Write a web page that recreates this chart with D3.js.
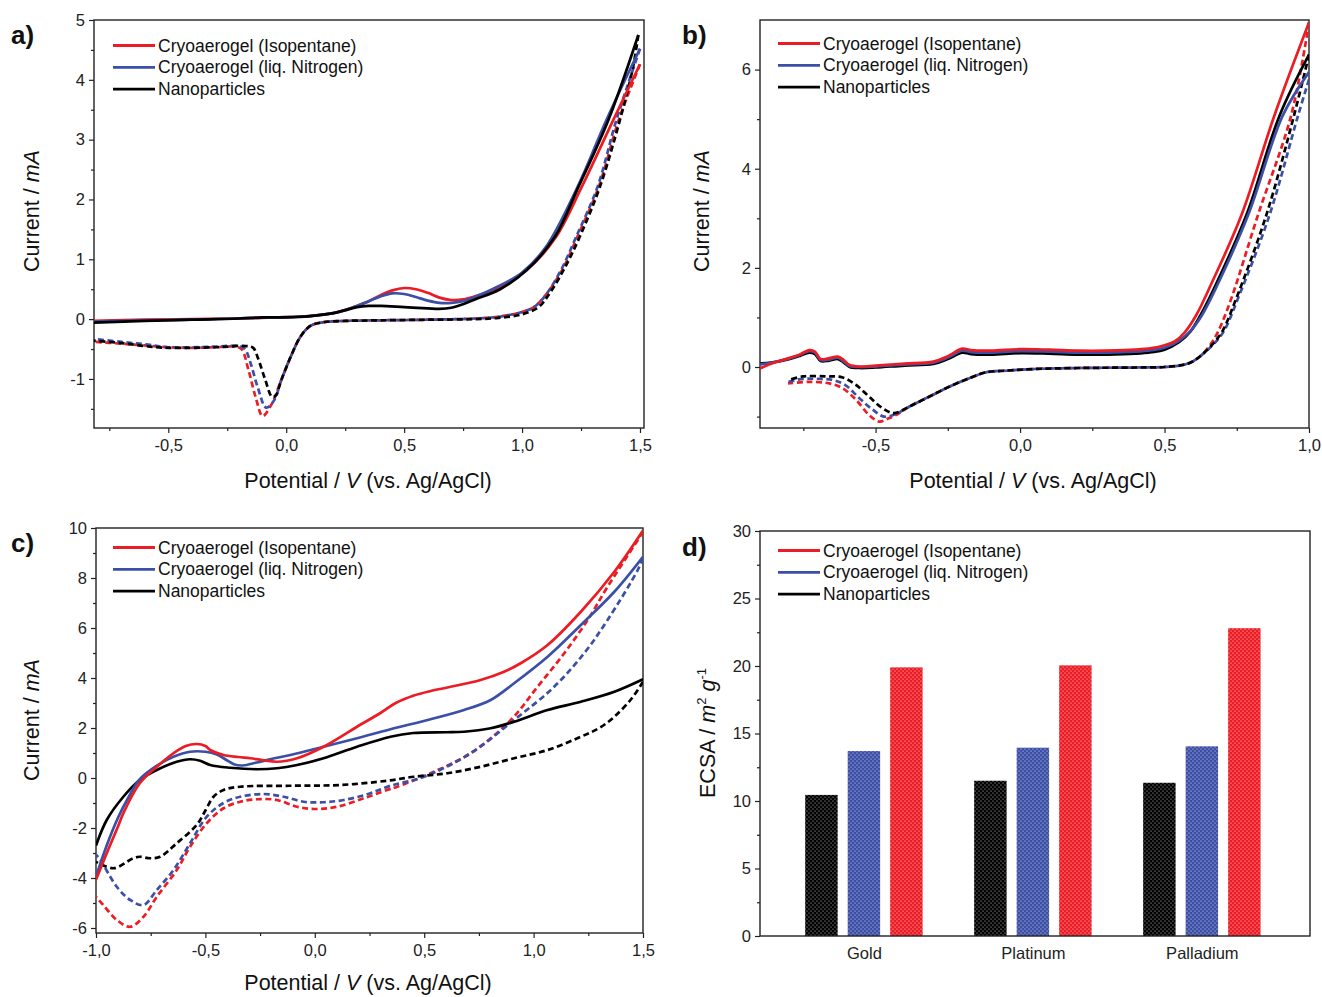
<!DOCTYPE html>
<html><head><meta charset="utf-8">
<script src="https://cdn.jsdelivr.net/npm/d3@7"></script>
<style>
html,body{margin:0;padding:0;background:#fff;}
svg{display:block;font-family:"Liberation Sans",Arial,sans-serif;}
</style></head>
<body><svg id="fig" width="1322" height="997"></svg>
<script>
// ---------------- DATA ----------------
const seriesNames = ["Cryoaerogel (Isopentane)", "Cryoaerogel (liq. Nitrogen)", "Nanoparticles"];
const seriesColors = ["#ec1c24", "#3c4fa6", "#000000"];

// Panel a) forward (solid) and reverse (dashed) scans: [potential V, current mA]
const aRedFwd = [[-0.815,-0.03],[-0.6,-0.01],[-0.4,0.0],[-0.2,0.01],[-0.05,0.03],[0.05,0.04],[0.1,0.05],[0.2,0.1],[0.25,0.15],[0.3,0.22],[0.35,0.3],[0.4,0.4],[0.45,0.48],[0.5,0.52],[0.55,0.5],[0.6,0.44],[0.65,0.36],[0.7,0.32],[0.75,0.33],[0.8,0.38],[0.9,0.52],[1.02,0.82],[1.14,1.35],[1.253,2.21],[1.387,3.33],[1.5,4.26]];
const aBlueFwd = [[-0.815,-0.04],[-0.6,-0.02],[-0.4,-0.01],[-0.2,0.01],[-0.05,0.03],[0.05,0.04],[0.1,0.05],[0.2,0.1],[0.25,0.15],[0.3,0.22],[0.35,0.3],[0.4,0.38],[0.45,0.43],[0.5,0.42],[0.55,0.37],[0.6,0.31],[0.65,0.27],[0.7,0.27],[0.75,0.3],[0.8,0.37],[0.9,0.55],[1.0,0.78],[1.1,1.2],[1.24,2.25],[1.36,3.35],[1.5,4.52]];
const aBlackFwd = [[-0.815,-0.06],[-0.6,-0.03],[-0.4,-0.01],[-0.2,0.01],[-0.1,0.03],[0.0,0.03],[0.1,0.05],[0.2,0.1],[0.25,0.15],[0.3,0.2],[0.35,0.22],[0.4,0.22],[0.5,0.2],[0.6,0.18],[0.65,0.17],[0.7,0.19],[0.75,0.25],[0.8,0.33],[0.907,0.5],[1.02,0.82],[1.14,1.38],[1.239,2.21],[1.366,3.33],[1.493,4.75]];
const aRedRev = [[1.5,4.26],[1.41,3.33],[1.325,2.21],[1.235,1.38],[1.17,0.82],[1.1,0.4],[1.05,0.2],[1.0,0.12],[0.9,0.04],[0.8,0.01],[0.6,-0.01],[0.4,-0.02],[0.25,-0.03],[0.16,-0.05],[0.104,-0.11],[0.061,-0.29],[0.019,-0.63],[-0.022,-1.03],[-0.063,-1.43],[-0.1,-1.62],[-0.13,-1.3],[-0.16,-0.85],[-0.19,-0.5],[-0.22,-0.46],[-0.3,-0.47],[-0.4,-0.48],[-0.5,-0.47],[-0.6,-0.44],[-0.7,-0.41],[-0.815,-0.38]];
const aBlueRev = [[1.5,4.52],[1.4,3.33],[1.32,2.21],[1.23,1.38],[1.165,0.82],[1.1,0.4],[1.05,0.2],[1.0,0.12],[0.9,0.04],[0.8,0.01],[0.6,-0.01],[0.4,-0.02],[0.25,-0.03],[0.16,-0.05],[0.104,-0.11],[0.061,-0.29],[0.019,-0.63],[-0.022,-1.03],[-0.05,-1.35],[-0.085,-1.48],[-0.12,-1.15],[-0.15,-0.75],[-0.175,-0.5],[-0.2,-0.45],[-0.3,-0.46],[-0.5,-0.47],[-0.6,-0.42],[-0.7,-0.38],[-0.815,-0.33]];
const aBlackRev = [[1.493,4.75],[1.47,4.2],[1.415,3.33],[1.33,2.21],[1.245,1.38],[1.18,0.85],[1.12,0.45],[1.07,0.2],[1.0,0.08],[0.9,0.02],[0.8,0.0],[0.6,-0.01],[0.4,-0.02],[0.25,-0.03],[0.16,-0.05],[0.104,-0.11],[0.061,-0.29],[0.019,-0.63],[-0.022,-1.03],[-0.045,-1.28],[-0.06,-1.3],[-0.09,-1.0],[-0.12,-0.65],[-0.14,-0.48],[-0.17,-0.45],[-0.3,-0.47],[-0.5,-0.48],[-0.6,-0.45],[-0.7,-0.4],[-0.815,-0.36]];

// Panel b)
const bRedFwd = [[-0.9,-0.03],[-0.85,0.09],[-0.8,0.18],[-0.76,0.26],[-0.73,0.34],[-0.71,0.31],[-0.69,0.16],[-0.66,0.18],[-0.63,0.21],[-0.61,0.14],[-0.59,0.04],[-0.555,0.01],[-0.5,0.03],[-0.4,0.07],[-0.3,0.11],[-0.25,0.22],[-0.2,0.37],[-0.17,0.34],[-0.1,0.33],[0.0,0.36],[0.1,0.35],[0.2,0.33],[0.3,0.33],[0.4,0.35],[0.455,0.38],[0.5,0.44],[0.536,0.52],[0.57,0.7],[0.61,1.05],[0.662,1.68],[0.766,3.06],[0.88,5.07],[1.0,6.95]];
const bBlueFwd = [[-0.9,0.05],[-0.85,0.1],[-0.8,0.17],[-0.76,0.25],[-0.73,0.32],[-0.71,0.29],[-0.69,0.14],[-0.66,0.15],[-0.63,0.19],[-0.61,0.11],[-0.59,0.02],[-0.555,0.0],[-0.5,0.01],[-0.4,0.05],[-0.3,0.09],[-0.25,0.19],[-0.2,0.33],[-0.17,0.3],[-0.1,0.29],[0.0,0.32],[0.1,0.31],[0.2,0.29],[0.3,0.29],[0.4,0.31],[0.455,0.34],[0.5,0.39],[0.55,0.53],[0.59,0.73],[0.63,1.05],[0.685,1.68],[0.789,3.06],[0.909,5.07],[1.0,5.95]];
const bBlackFwd = [[-0.9,0.07],[-0.85,0.1],[-0.8,0.16],[-0.76,0.23],[-0.73,0.29],[-0.71,0.26],[-0.69,0.12],[-0.66,0.13],[-0.63,0.16],[-0.61,0.09],[-0.59,0.0],[-0.555,-0.02],[-0.5,-0.01],[-0.4,0.03],[-0.3,0.06],[-0.25,0.16],[-0.2,0.29],[-0.17,0.26],[-0.1,0.25],[0.0,0.28],[0.1,0.27],[0.2,0.25],[0.3,0.25],[0.4,0.27],[0.455,0.3],[0.5,0.35],[0.55,0.5],[0.59,0.72],[0.625,1.05],[0.679,1.68],[0.783,3.06],[0.898,5.07],[1.0,6.3]];
const bRedRev = [[1.0,6.95],[0.938,5.07],[0.823,3.06],[0.731,1.38],[0.685,0.71],[0.655,0.42],[0.628,0.24],[0.6,0.12],[0.57,0.05],[0.5,0.0],[0.4,-0.01],[0.2,-0.02],[0.05,-0.04],[-0.04,-0.07],[-0.12,-0.11],[-0.177,-0.23],[-0.246,-0.4],[-0.315,-0.6],[-0.384,-0.8],[-0.43,-0.97],[-0.453,-1.03],[-0.487,-1.1],[-0.522,-0.97],[-0.568,-0.66],[-0.614,-0.43],[-0.66,-0.33],[-0.729,-0.3],[-0.803,-0.33]];
const bBlueRev = [[1.0,5.8],[0.962,5.07],[0.863,3.06],[0.754,1.38],[0.705,0.72],[0.668,0.45],[0.628,0.24],[0.6,0.12],[0.57,0.05],[0.5,0.0],[0.4,-0.01],[0.2,-0.02],[0.05,-0.04],[-0.04,-0.07],[-0.12,-0.11],[-0.177,-0.23],[-0.246,-0.4],[-0.315,-0.6],[-0.384,-0.8],[-0.43,-0.95],[-0.471,-1.0],[-0.51,-0.86],[-0.556,-0.63],[-0.606,-0.36],[-0.65,-0.26],[-0.7,-0.24],[-0.752,-0.24],[-0.803,-0.3]];
const bBlackRev = [[1.0,6.3],[0.948,5.07],[0.852,3.06],[0.748,1.38],[0.7,0.72],[0.665,0.45],[0.628,0.24],[0.6,0.12],[0.57,0.05],[0.5,0.0],[0.4,-0.01],[0.2,-0.02],[0.05,-0.04],[-0.04,-0.07],[-0.12,-0.11],[-0.177,-0.23],[-0.246,-0.4],[-0.315,-0.6],[-0.384,-0.8],[-0.436,-0.93],[-0.476,-0.83],[-0.522,-0.6],[-0.568,-0.36],[-0.614,-0.21],[-0.671,-0.19],[-0.752,-0.19],[-0.803,-0.27]];

// Panel c)
const cRedFwd = [[-1.0,-4.07],[-0.951,-3.01],[-0.9,-1.95],[-0.875,-1.41],[-0.8,-0.21],[-0.722,0.45],[-0.646,0.99],[-0.59,1.28],[-0.539,1.36],[-0.5,1.28],[-0.478,1.12],[-0.417,0.92],[-0.35,0.84],[-0.295,0.79],[-0.24,0.72],[-0.173,0.65],[-0.081,0.79],[0.04,1.25],[0.193,2.05],[0.3,2.6],[0.37,3.0],[0.453,3.3],[0.53,3.48],[0.606,3.62],[0.758,3.92],[0.865,4.25],[0.941,4.59],[1.064,5.32],[1.216,6.65],[1.369,8.25],[1.5,9.9]];
const cBlueFwd = [[-1.0,-3.95],[-0.951,-2.7],[-0.9,-1.6],[-0.85,-0.75],[-0.8,-0.05],[-0.72,0.5],[-0.646,0.85],[-0.57,1.05],[-0.5,1.05],[-0.45,0.95],[-0.4,0.7],[-0.37,0.55],[-0.33,0.5],[-0.265,0.62],[-0.2,0.76],[-0.112,0.92],[0.04,1.25],[0.193,1.59],[0.346,1.95],[0.529,2.35],[0.682,2.72],[0.804,3.12],[0.911,3.79],[1.064,4.85],[1.216,6.12],[1.369,7.45],[1.5,8.85]];
const cBlackFwd = [[-1.0,-2.7],[-0.951,-1.68],[-0.875,-0.75],[-0.8,-0.08],[-0.722,0.32],[-0.631,0.65],[-0.57,0.75],[-0.524,0.69],[-0.478,0.52],[-0.387,0.41],[-0.264,0.35],[-0.173,0.39],[-0.081,0.52],[0.04,0.79],[0.193,1.25],[0.346,1.65],[0.45,1.8],[0.6,1.83],[0.682,1.85],[0.804,1.99],[0.911,2.25],[1.064,2.72],[1.216,3.05],[1.369,3.45],[1.5,3.95]];
const cRedRev = [[1.5,9.85],[1.491,9.72],[1.338,7.65],[1.247,6.32],[1.14,4.99],[1.018,3.65],[0.896,2.32],[0.712,0.99],[0.529,0.19],[0.377,-0.35],[0.33,-0.48],[0.224,-0.81],[0.102,-1.15],[0.01,-1.24],[-0.081,-1.15],[-0.173,-0.88],[-0.264,-0.85],[-0.341,-0.95],[-0.417,-1.21],[-0.494,-1.81],[-0.57,-2.75],[-0.631,-3.68],[-0.722,-4.75],[-0.783,-5.55],[-0.844,-5.95],[-0.905,-5.68],[-0.967,-5.08],[-1.0,-4.75]];
const cBlueRev = [[1.5,8.8],[1.476,8.32],[1.338,6.32],[1.231,4.99],[1.094,3.65],[0.911,2.32],[0.712,0.99],[0.5,0.05],[0.346,-0.31],[0.24,-0.65],[0.132,-0.88],[0.04,-0.97],[-0.051,-0.95],[-0.142,-0.75],[-0.234,-0.64],[-0.341,-0.75],[-0.417,-1.0],[-0.494,-1.55],[-0.57,-2.61],[-0.646,-3.68],[-0.722,-4.48],[-0.783,-5.08],[-0.844,-4.88],[-0.905,-4.35],[-0.98,-3.28],[-1.0,-3.07]];
const cBlackRev = [[1.5,3.85],[1.45,3.2],[1.369,2.45],[1.3,2.0],[1.216,1.65],[1.064,1.12],[0.911,0.79],[0.758,0.45],[0.606,0.19],[0.453,0.05],[0.33,-0.11],[0.117,-0.28],[-0.112,-0.31],[-0.341,-0.35],[-0.417,-0.48],[-0.463,-0.75],[-0.5,-1.3],[-0.54,-1.88],[-0.631,-2.61],[-0.707,-3.15],[-0.753,-3.21],[-0.8,-3.15],[-0.83,-3.21],[-0.92,-3.61],[-1.0,-3.35]];

// Panel d) ECSA bars (m^2 g^-1)
const metals = ["Gold", "Platinum", "Palladium"];
const ecsaNano = [10.45, 11.5, 11.35];
const ecsaLiqN2 = [13.7, 13.95, 14.05];
const ecsaIsopentane = [19.9, 20.05, 22.8];

// ticks
const aXMajor = [-0.5, 0, 0.5, 1.0, 1.5], aXMinor = [-0.75, -0.25, 0.25, 0.75, 1.25];
const aYMajor = [-1, 0, 1, 2, 3, 4, 5], aYMinor = [-1.5, -0.5, 0.5, 1.5, 2.5, 3.5, 4.5];
const bXMajor = [-0.5, 0, 0.5, 1.0], bXMinor = [-0.75, -0.25, 0.25, 0.75];
const bYMajor = [0, 2, 4, 6], bYMinor = [-1, 1, 3, 5];
const cXMajor = [-1.0, -0.5, 0, 0.5, 1.0, 1.5], cXMinor = [-0.75, -0.25, 0.25, 0.75, 1.25];
const cYMajor = [-6, -4, -2, 0, 2, 4, 6, 8, 10], cYMinor = [-5, -3, -1, 1, 3, 5, 7, 9];
const dYMajor = [0, 5, 10, 15, 20, 25, 30], dYMinor = [2.5, 7.5, 12.5, 17.5, 22.5, 27.5];

// ---------------- DRAW ----------------
const svg = d3.select("#fig");
const FONT = '"Liberation Sans", Arial, sans-serif';
const fmtX = v => v.toFixed(1).replace(".", ",").replace("\u2212", "-");
const fmtY = v => String(v);
const TICK_FS = 16.5, TITLE_FS = 21.5, LEG_FS = 17.5;

// dotted patterns for bars
const defs = svg.append("defs");
seriesColors.forEach((c, i) => {
  const p = defs.append("pattern").attr("id", "dots" + i).attr("patternUnits", "userSpaceOnUse")
    .attr("width", 4).attr("height", 4);
  p.append("rect").attr("width", 4).attr("height", 4).attr("fill", c);
  p.append("circle").attr("cx", 1).attr("cy", 1).attr("r", 0.6).attr("fill", "#fff").attr("opacity", 0.85);
  p.append("circle").attr("cx", 3).attr("cy", 3).attr("r", 0.6).attr("fill", "#fff").attr("opacity", 0.85);
});

function axes(cfg, x, y, xFmt, yFmt, xMajor, xMinor, yMajor, yMinor, xTickSize) {
  const g = svg.append("g");
  const b = g.append("g").attr("transform", `translate(0,${cfg.bottom})`);
  if (xMinor) b.append("g").call(d3.axisBottom(x).tickValues(xMinor).tickSize(3).tickFormat(""));
  b.append("g").call(d3.axisBottom(x).tickValues(xMajor).tickSize(xTickSize).tickPadding(11 - xTickSize).tickFormat(xFmt));
  const l = g.append("g").attr("transform", `translate(${cfg.left},0)`);
  l.append("g").call(d3.axisLeft(y).tickValues(yMinor).tickSize(3).tickFormat(""));
  l.append("g").call(d3.axisLeft(y).tickValues(yMajor).tickSize(5).tickPadding(4).tickFormat(yFmt));
  g.selectAll(".domain").remove();
  g.selectAll(".tick line").attr("stroke", "#222").attr("stroke-width", 1.2);
  g.selectAll(".tick text").attr("font-family", FONT).attr("font-size", TICK_FS).attr("fill", "#222");
  svg.append("rect").attr("x", cfg.left).attr("y", cfg.top)
    .attr("width", cfg.right - cfg.left).attr("height", cfg.bottom - cfg.top)
    .attr("fill", "none").attr("stroke", "#222").attr("stroke-width", 1.4);
}

function legend(x0, y0) {
  const g = svg.append("g");
  seriesNames.forEach((n, i) => {
    const yy = y0 + i * 21.8;
    g.append("line").attr("x1", x0).attr("x2", x0 + 42).attr("y1", yy).attr("y2", yy)
      .attr("stroke", seriesColors[i]).attr("stroke-width", 2.8);
    g.append("text").attr("x", x0 + 45).attr("y", yy).attr("dy", "0.35em")
      .attr("font-family", FONT).attr("font-size", LEG_FS).attr("fill", "#111").text(n);
  });
}

function panelLetter(t, x, y) {
  svg.append("text").attr("x", x).attr("y", y).attr("font-family", FONT)
    .attr("font-size", 26).attr("font-weight", "bold").attr("fill", "#111").text(t);
}

function yTitleCurrent(x, yc) {
  const t = svg.append("text").attr("transform", `translate(${x},${yc}) rotate(-90)`)
    .attr("text-anchor", "middle").attr("font-family", FONT).attr("font-size", TITLE_FS).attr("fill", "#111");
  t.append("tspan").text("Current / ");
  t.append("tspan").attr("font-style", "italic").text("mA");
}
function xTitlePotential(xc, y) {
  const t = svg.append("text").attr("x", xc).attr("y", y).attr("text-anchor", "middle")
    .attr("font-family", FONT).attr("font-size", TITLE_FS).attr("fill", "#111");
  t.append("tspan").text("Potential / ");
  t.append("tspan").attr("font-style", "italic").text("V");
  t.append("tspan").text(" (vs. Ag/AgCl)");
}

let clipId = 0;
function cvPanel(cfg) {
  const x = d3.scaleLinear().domain(cfg.xDomain).range([cfg.left, cfg.right]);
  const y = d3.scaleLinear().domain(cfg.yDomain).range([cfg.bottom, cfg.top]);
  axes(cfg, x, y, fmtX, fmtY, cfg.xMajor, cfg.xMinor, cfg.yMajor, cfg.yMinor, 5);
  const id = "clip" + (clipId++);
  defs.append("clipPath").attr("id", id).append("rect")
    .attr("x", cfg.left).attr("y", cfg.top).attr("width", cfg.right - cfg.left).attr("height", cfg.bottom - cfg.top);
  const line = d3.line().x(d => x(d[0])).y(d => y(d[1])).curve(d3.curveCatmullRom.alpha(0.5));
  const g = svg.append("g").attr("clip-path", `url(#${id})`);
  cfg.rev.forEach((s, i) => g.append("path").attr("d", line(s)).attr("fill", "none")
    .attr("stroke", seriesColors[i]).attr("stroke-width", 2.7).attr("stroke-dasharray", "6,3.5"));
  cfg.fwdOrder.forEach(i => g.append("path").attr("d", line(cfg.fwd[i])).attr("fill", "none")
    .attr("stroke", seriesColors[i]).attr("stroke-width", 2.7));
}

// Panel a
cvPanel({left: 94, right: 644, top: 20, bottom: 428, xDomain: [-0.815, 1.517], yDomain: [-1.82, 5],
  xMajor: aXMajor, xMinor: aXMinor, yMajor: aYMajor, yMinor: aYMinor,
  fwd: [aRedFwd, aBlueFwd, aBlackFwd], rev: [aRedRev, aBlueRev, aBlackRev], fwdOrder: [0, 1, 2]});
legend(113, 45.5);
panelLetter("a)", 11, 44);
yTitleCurrent(39, 211);
xTitlePotential(368, 488);

// Panel b
cvPanel({left: 760, right: 1309, top: 20, bottom: 428, xDomain: [-0.9, 1.0], yDomain: [-1.23, 7],
  xMajor: bXMajor, xMinor: bXMinor, yMajor: bYMajor, yMinor: bYMinor,
  fwd: [bRedFwd, bBlueFwd, bBlackFwd], rev: [bRedRev, bBlueRev, bBlackRev], fwdOrder: [2, 1, 0]});
legend(778, 43.5);
panelLetter("b)", 682, 44);
yTitleCurrent(709, 211);
xTitlePotential(1033, 488);

// Panel c
cvPanel({left: 96, right: 643, top: 528, bottom: 933, xDomain: [-1.0, 1.5], yDomain: [-6.2, 10],
  xMajor: cXMajor, xMinor: cXMinor, yMajor: cYMajor, yMinor: cYMinor,
  fwd: [cRedFwd, cBlueFwd, cBlackFwd], rev: [cRedRev, cBlueRev, cBlackRev], fwdOrder: [2, 1, 0]});
legend(113, 547.5);
panelLetter("c)", 11, 552);
yTitleCurrent(39, 720);
xTitlePotential(368, 990);

// Panel d
(function () {
  const cfg = {left: 760, right: 1310, top: 531, bottom: 936};
  const x = d3.scaleLinear().domain([0.385, 3.64]).range([cfg.left, cfg.right]);
  const y = d3.scaleLinear().domain([0, 30]).range([cfg.bottom, cfg.top]);
  const groups = [ecsaNano, ecsaLiqN2, ecsaIsopentane];
  const patIdx = [2, 1, 0];
  const offsets = [-0.2515, 0, 0.2515];
  const bw = 0.192;
  const g = svg.append("g");
  groups.forEach((vals, gi) => {
    g.selectAll(null).data(vals).enter().append("rect")
      .attr("x", (v, i) => x(i + 1 + offsets[gi] - bw / 2))
      .attr("width", x(bw) - x(0))
      .attr("y", v => y(v))
      .attr("height", v => y(0) - y(v))
      .attr("fill", `url(#dots${patIdx[gi]})`);
  });
  axes(cfg, x, y, (v) => metals[v - 1], fmtY, [1, 2, 3], null, dYMajor, dYMinor, 0);
  legend(778, 550.5);
  panelLetter("d)", 682, 556);
  const t = svg.append("text").attr("transform", `translate(715,733) rotate(-90)`)
    .attr("text-anchor", "middle").attr("font-family", FONT).attr("font-size", TITLE_FS).attr("fill", "#111");
  t.append("tspan").text("ECSA / ");
  t.append("tspan").attr("font-style", "italic").text("m");
  t.append("tspan").attr("font-size", 13).attr("dy", -9).text("2");
  t.append("tspan").attr("dy", 9).text(" ");
  t.append("tspan").attr("font-style", "italic").text("g");
  t.append("tspan").attr("font-size", 13).attr("dy", -9).text("-1");
})();
</script>
</body></html>
